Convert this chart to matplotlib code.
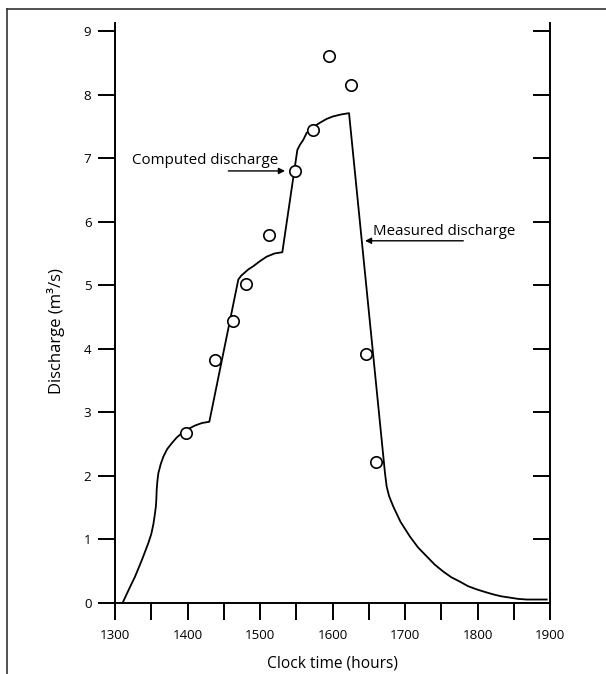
import numpy as np
import matplotlib
matplotlib.use("Agg")
import matplotlib.pyplot as plt
from matplotlib.lines import Line2D

plt.rcParams["font.family"] = ["Open Sans", "DejaVu Sans"]

# measured points (open circles)
obs_time = [1398, 1438, 1463, 1480, 1513, 1548, 1573, 1595, 1625, 1646, 1660]
obs_q = [2.67, 3.82, 4.44, 5.02, 5.79, 6.80, 7.45, 8.61, 8.16, 3.91, 2.22]

# hydrograph line
line_time = [1310.6, 1320, 1327.6, 1337, 1346, 1350, 1353, 1355.2, 1356.4,
             1357, 1357.5, 1358.5, 1359.8, 1363, 1366.7, 1372, 1378.2, 1385,
             1392, 1400, 1410.3, 1420, 1430.1, 1470.1, 1474, 1478, 1484,
             1490.8, 1500, 1509.2, 1520, 1530.8, 1551.5, 1555, 1559.7,
             1564.4, 1572, 1582.8, 1592, 1601.1, 1612, 1622.8,
             1672.4, 1674.7, 1678, 1684, 1694, 1706.9, 1718, 1729.9, 1741,
             1752.8, 1764, 1776, 1787, 1798.9, 1810, 1822, 1833, 1844.8,
             1856, 1867.9, 1880, 1895.4]
line_q = [0.0, 0.23, 0.41, 0.67, 0.94, 1.08, 1.24, 1.41, 1.52,
          1.62, 1.78, 1.92, 2.04, 2.18, 2.30, 2.42, 2.51, 2.60,
          2.67, 2.73, 2.79, 2.83, 2.85, 5.09, 5.15, 5.19, 5.25,
          5.30, 5.38, 5.45, 5.50, 5.52, 7.13, 7.21, 7.29,
          7.40, 7.48, 7.56, 7.62, 7.66, 7.69, 7.71,
          2.04, 1.83, 1.68, 1.51, 1.27, 1.04, 0.87, 0.73, 0.60,
          0.49, 0.40, 0.33, 0.26, 0.21, 0.17, 0.13, 0.10, 0.08,
          0.06, 0.05, 0.05, 0.05]

x_major = np.arange(1300, 1901, 100)
x_minor = np.arange(1350, 1900, 100)
y_ticks = np.arange(0, 10, 1)

W, H = 606, 674
fig = plt.figure(figsize=(W / 100, H / 100), dpi=100)
ax = fig.add_axes([115 / W, 71.3 / H, 435 / W, (602.7 - 23) / H])

ax.plot(line_time, line_q, color="black", lw=1.3, zorder=2)
ax.plot(obs_time, obs_q, "o", mfc="white", mec="black", ms=8.2, mew=1.2,
        zorder=3, clip_on=False)

ax.set_xlim(1300, 1900)
ax.set_ylim(0, 9.13)

for side in ["left", "right", "bottom"]:
    ax.spines[side].set_linewidth(1.4)
ax.spines["top"].set_visible(False)

ax.set_xticks(x_major)
ax.set_xticks(x_minor, minor=True)
ax.set_yticks(y_ticks)
ax.tick_params(axis="x", which="both", direction="out", length=12, width=1.4,
               labelsize=9.6, pad=7)
ax.tick_params(axis="y", direction="out", length=12, width=1.4,
               labelsize=9.6, pad=5)

# right axis ticks point inward, no labels
ax2 = ax.twinx()
ax2.set_ylim(ax.get_ylim())
ax2.set_yticks(y_ticks)
ax2.tick_params(axis="y", direction="in", length=12, width=1.4,
                labelright=False)
for s in ax2.spines.values():
    s.set_visible(False)

ax.set_xlabel("Clock time (hours)", fontsize=11.2, va="center")
ax.xaxis.set_label_coords(0.5, (602.7 - 664) / 579.7)
ax.set_ylabel("Discharge (m³/s)", fontsize=12, va="center")
ax.yaxis.set_label_coords((56 - 115) / 435, (602.7 - 331) / 579.7)

arrow = dict(arrowstyle="-|>", lw=1.0, color="black", mutation_scale=9,
             shrinkA=0, shrinkB=0)
ax.text(1323, 6.905, "Computed discharge", fontsize=10.9, va="baseline")
ax.annotate("", xy=(1534.5, 6.80), xytext=(1456.3, 6.80), arrowprops=arrow)
ax.text(1656.1, 5.79, "Measured discharge", fontsize=10.8, va="baseline")
ax.annotate("", xy=(1644.8, 5.70), xytext=(1780.4, 5.70), arrowprops=arrow)

# border lines (top and left only)
fig.add_artist(Line2D([7 / W, 1], [1 - 9 / H, 1 - 9 / H], color="#333333",
                      lw=1.2, transform=fig.transFigure))
fig.add_artist(Line2D([7 / W, 7 / W], [0, 1 - 9 / H], color="#333333",
                      lw=1.2, transform=fig.transFigure))

fig.savefig("out.png", dpi=100)
